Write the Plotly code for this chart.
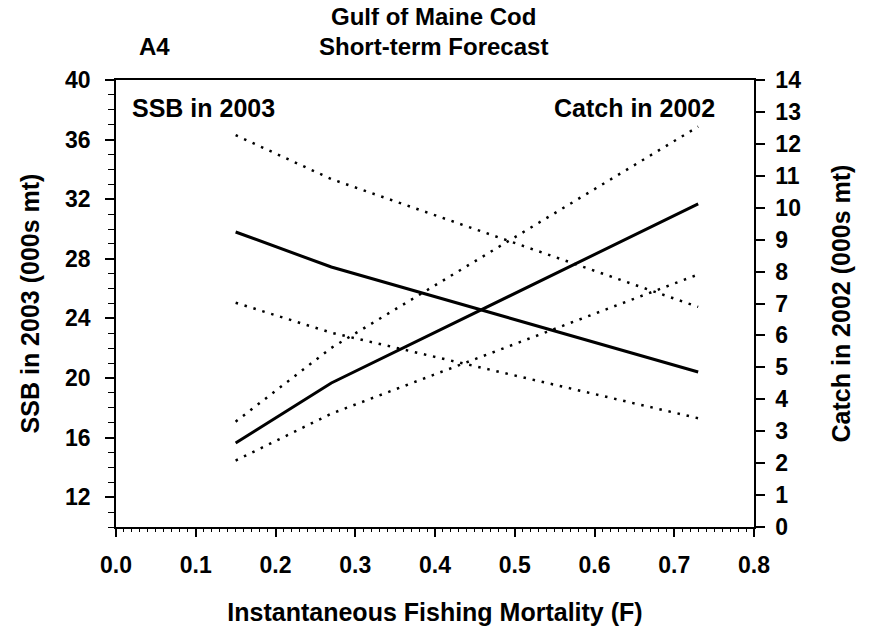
import plotly.graph_objects as go

# Instantaneous fishing mortality (F) at which each projection was run
f_values = [0.15, 0.27, 0.73]

# SSB in 2003 (000s mt): point estimate with upper / lower bounds
ssb_2003 = [29.8, 27.45, 20.4]
ssb_2003_upper = [36.3, 33.35, 24.77]
ssb_2003_lower = [25.05, 23.04, 17.3]

# Catch in 2002 (000s mt): point estimate with upper / lower bounds
catch_2002 = [2.63, 4.51, 10.12]
catch_2002_upper = [3.30, 5.61, 12.54]
catch_2002_lower = [2.08, 3.55, 7.91]

FONT = "Liberation Sans, Arial, sans-serif"
SOLID = dict(color="black", width=3)
DOTTED = dict(color="black", width=2.5, dash="2.5px,6.8px")

fig = go.Figure()

for vals, line in ((ssb_2003_upper, DOTTED), (ssb_2003_lower, DOTTED), (ssb_2003, SOLID)):
    fig.add_trace(go.Scatter(x=f_values, y=vals, mode="lines", line=line, yaxis="y"))

for vals, line in ((catch_2002_upper, DOTTED), (catch_2002_lower, DOTTED), (catch_2002, SOLID)):
    fig.add_trace(go.Scatter(x=f_values, y=vals, mode="lines", line=line, yaxis="y2"))

# the page body adds an 8px offset, so the figure is sized to fit the window
fig.update_layout(
    width=861,
    height=618,
    margin=dict(l=108, r=115, t=72, b=99),
    paper_bgcolor="white",
    plot_bgcolor="white",
    showlegend=False,
    font=dict(family=FONT, size=23, color="black", weight="bold"),
    xaxis=dict(
        range=[0, 0.8],
        tick0=0,
        dtick=0.1,
        tickformat=".1f",
        ticks="outside",
        ticklen=8,
        tickwidth=1.5,
        tickcolor="black",
        ticklabelstandoff=9,
        minor=dict(dtick=0.01, ticks="outside", ticklen=3, tickwidth=1, tickcolor="black"),
        showline=True,
        linecolor="black",
        linewidth=1.5,
        mirror=True,
        showgrid=False,
        zeroline=False,
        automargin=False,
        title=dict(text="Instantaneous Fishing Mortality (F)", font=dict(size=25), standoff=27),
    ),
    yaxis=dict(
        range=[10, 40],
        tick0=12,
        dtick=4,
        ticks="outside",
        ticklen=9,
        tickwidth=1.5,
        tickcolor="black",
        ticklabelstandoff=10,
        minor=dict(dtick=1, ticks="outside", ticklen=6, tickwidth=1, tickcolor="black"),
        showline=True,
        linecolor="black",
        linewidth=1.5,
        showgrid=False,
        zeroline=False,
        automargin=False,
        title=dict(text="SSB in 2003 (000s mt)", font=dict(size=25), standoff=18),
    ),
    yaxis2=dict(
        range=[0, 14],
        dtick=1,
        overlaying="y",
        side="right",
        ticks="outside",
        ticklen=9,
        tickwidth=1.5,
        tickcolor="black",
        ticklabelstandoff=6,
        showline=True,
        linecolor="black",
        linewidth=1.5,
        showgrid=False,
        zeroline=False,
        automargin=False,
        title=dict(text="Catch in 2002 (000s mt)", font=dict(size=25), standoff=32),
    ),
    annotations=[
        dict(text="Gulf of Maine Cod", x=0.497, y=1.141, xref="paper", yref="paper",
             xanchor="center", yanchor="middle", showarrow=False, borderpad=0,
             font=dict(size=24)),
        dict(text="Short-term Forecast", x=0.497, y=1.074, xref="paper", yref="paper",
             xanchor="center", yanchor="middle", showarrow=False, borderpad=0,
             font=dict(size=24)),
        dict(text="A4", x=0.035, y=1.074, xref="paper", yref="paper",
             xanchor="left", yanchor="middle", showarrow=False, borderpad=0,
             font=dict(size=24)),
        dict(text="SSB in 2003", x=0.022, y=0.937, xref="paper", yref="paper",
             xanchor="left", yanchor="middle", showarrow=False, font=dict(size=25)),
        dict(text="Catch in 2002", x=0.942, y=0.937, xref="paper", yref="paper",
             xanchor="right", yanchor="middle", showarrow=False, font=dict(size=25)),
    ],
)

fig.write_html("out.html")
